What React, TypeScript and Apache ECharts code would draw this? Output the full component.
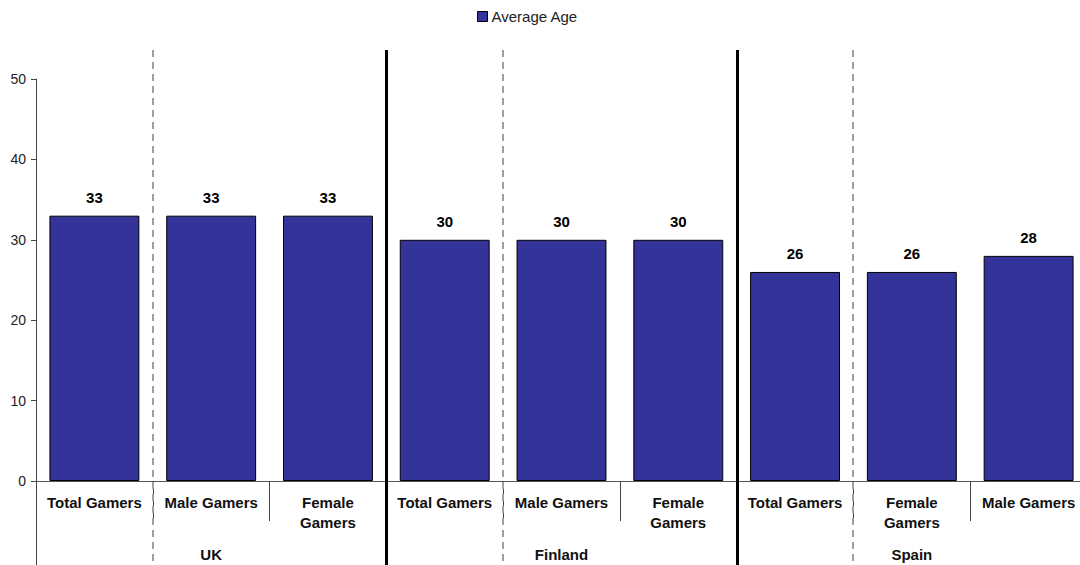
import React, { useEffect, useRef } from "react";
import * as echarts from "echarts";

const categories = [
  "Total Gamers", "Male Gamers", "Female\nGamers",
  "Total Gamers", "Male Gamers", "Female\nGamers",
  "Total Gamers", "Female\nGamers", "Male Gamers",
];
const groups = ["UK", "Finland", "Spain"];
const averageAge = [33, 33, 33, 30, 30, 30, 26, 26, 28];
const yTicks = { min: 0, max: 50, interval: 10 };
const dashedAfter = [0, 3, 6];
const solidAfter = [2, 5];

const FONT = "Arial, 'Liberation Sans', sans-serif";

export default function App() {
  const ref = useRef<HTMLDivElement>(null);
  useEffect(() => {
    if (!ref.current) return;
    const chart = echarts.init(ref.current, null, { renderer: "svg" });
    chart.setOption({
      animation: false,
      textStyle: { fontFamily: FONT },
      legend: {
        top: 9,
        left: 477,
        padding: 0,
        itemWidth: 10,
        itemHeight: 10,
        itemGap: 4,
        textStyle: { fontSize: 15, color: "#222", fontFamily: FONT, padding: [0, 0, 0, -1] },
        data: [{ name: "Average Age", icon: "rect", itemStyle: { borderColor: "#000", borderWidth: 1 } }],
      },
      grid: { left: 36, right: 0, top: 79, bottom: 84 },
      xAxis: [
        {
          type: "category",
          data: categories,
          axisLine: { show: true, lineStyle: { color: "#555", width: 1 } },
          axisTick: { show: true, length: 40, lineStyle: { color: "#444", width: 1 } },
          axisLabel: {
            show: true,
            interval: 0,
            margin: 11,
            fontSize: 15,
            fontWeight: "bold",
            color: "#111",
            lineHeight: 20,
            fontFamily: FONT,
          },
        },
        {
          type: "category",
          data: groups,
          position: "bottom",
          axisLine: { show: false },
          axisTick: { show: true, length: 84, lineStyle: { color: "#444", width: 1 } },
          axisLabel: {
            show: true,
            interval: 0,
            margin: 66,
            fontSize: 15,
            fontWeight: "bold",
            color: "#111",
            fontFamily: FONT,
          },
        },
      ],
      yAxis: {
        type: "value",
        min: yTicks.min,
        max: yTicks.max,
        interval: yTicks.interval,
        axisLine: { show: true, lineStyle: { color: "#444" } },
        axisTick: { show: true, length: 5, lineStyle: { color: "#444" } },
        splitLine: { show: false },
        axisLabel: { fontSize: 14, color: "#222", margin: 10, fontFamily: FONT },
      },
      series: [
        {
          name: "Average Age",
          type: "bar",
          data: averageAge,
          xAxisIndex: 0,
          barCategoryGap: "23%",
          itemStyle: { color: "#333399", borderColor: "#000", borderWidth: 1 },
          label: {
            show: true,
            position: "top",
            distance: 11,
            fontSize: 15,
            fontWeight: "bold",
            color: "#000",
            fontFamily: FONT,
          },
        },
      ],
    });

    const px = (i: number) => chart.convertToPixel({ xAxisIndex: 0 }, i) as number;
    const boundary = (i: number) => (px(i) + px(i + 1)) / 2;
    const graphics: any[] = [];
    dashedAfter.forEach((i) => {
      const x = Math.round(boundary(i));
      graphics.push({
        type: "line",
        shape: { x1: x, y1: 50, x2: x, y2: 565 },
        style: { stroke: "#a0a0a0", lineWidth: 2, lineDash: [7, 5] },
        z: 10,
      });
    });
    solidAfter.forEach((i) => {
      const x = Math.round(boundary(i)) + 0.5;
      graphics.push({
        type: "line",
        shape: { x1: x, y1: 50, x2: x, y2: 565 },
        style: { stroke: "#000", lineWidth: 3 },
        z: 10,
      });
    });
    chart.setOption({ graphic: graphics });

    return () => chart.dispose();
  }, []);
  return (
    <div
      ref={ref}
      style={{ position: "fixed", left: 0, top: 0, width: 1087, height: 565, background: "#fff" }}
    />
  );
}
